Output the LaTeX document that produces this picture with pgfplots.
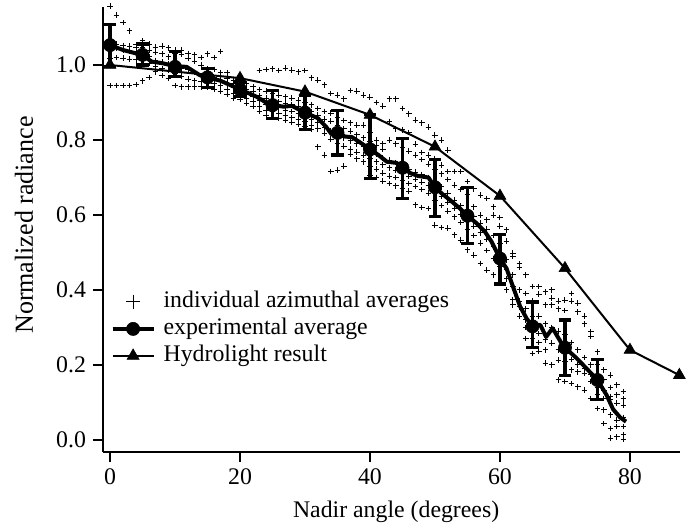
\documentclass[border=0pt]{standalone}
\usepackage{fontspec}
\setmainfont{Liberation Serif}
\usepackage{pgfplots}
\pgfplotsset{compat=1.18}
\begin{document}
\begin{tikzpicture}
\begin{axis}[
  name=ax, at={(0,0)}, anchor=south west,
  scale only axis, width=288.5pt, height=222.5pt,
  xmin=-1.08, xmax=87.7, ymin=-0.032, ymax=1.1547,
  clip=false,
  axis x line=bottom, axis y line=left,
  axis line style={-, line width=0.75pt, black},
  tick align=outside, major tick length=5pt, minor tick num=0,
  tick style={line width=0.75pt, black},
  xtick={0,20,40,60,80}, ytick={0,0.2,0.4,0.6,0.8,1.0},
  yticklabel style={/pgf/number format/.cd, fixed, fixed zerofill, precision=1},
  /pgf/number format/assume math mode=true,
  ticklabel style={font=\fontsize{11.9}{14}\selectfont},
  xlabel={Nadir angle (degrees)}, ylabel={Normalized radiance},
  xlabel style={font=\fontsize{11.9}{14}\selectfont, at={(axis description cs:0.508,-0.135)}, anchor=center},
  ylabel style={font=\fontsize{13}{15}\selectfont, at={(axis description cs:-0.137,0.51)}, anchor=center},
  legend image code/.code={\draw[mark repeat=2,mark phase=2,#1] plot coordinates {(0pt,0pt)(10.25pt,0pt)(20.5pt,0pt)};},
  legend style={draw=none, fill=none, at={(axis description cs:0.0125,0.3685)}, anchor=north west,
    inner sep=0pt, row sep=0pt, font=\fontsize{11.9}{14}\selectfont,
    nodes={inner sep=0pt, text height=9.5pt, text depth=4pt}},
  legend cell align=left,
]
\addlegendimage{only marks, mark=+, mark size=3.5pt, line width=0.45pt, black}
\addlegendentry{\hspace{4pt}individual azimuthal averages}
\addlegendimage{black, line width=2pt, mark=*, mark size=3.3pt, mark options={solid, line width=0.3pt}}
\addlegendentry{\hspace{4pt}experimental average}
\addlegendimage{black, line width=1pt, mark=triangle*, mark size=3.5pt, mark options={solid, line width=0.3pt}}
\addlegendentry{\hspace{4pt}Hydrolight result}

% individual azimuthal averages
\addplot[forget plot, only marks, mark=+, mark size=1.4pt, black, mark options={line width=0.5pt}] coordinates {
(0,1.157)(0,1.052)(0,1.040)(0,1.018)(0,0.945)
(1,1.133)(1,1.056)(1,1.044)(1,1.020)(1,0.945)
(2,1.113)(2,1.052)(2,1.040)(2,1.018)(2,0.945)
(3,1.091)(3,1.050)(3,1.038)(3,1.016)(3,0.945)
(4,1.055)(4,1.046)(4,1.030)(4,1.014)(4,0.948)
(5,1.065)(5,1.048)(5,1.038)(5,1.012)(5,0.958)
(6,1.056)(6,1.040)(6,1.022)(6,1.004)(6,0.967)
(7,1.048)(7,1.034)(7,1.012)(7,0.995)(7,0.982)
(8,1.050)(8,1.030)(8,1.008)(8,0.990)(8,0.972)
(9,1.046)(9,1.022)(9,1.002)(9,0.985)(9,0.965)
(10,1.040)(10,1.030)(10,1.000)(10,0.978)(10,0.945)
(11,1.040)(11,1.028)(11,0.992)(11,0.970)(11,0.942)
(12,1.031)(12,1.018)(12,0.988)(12,0.962)(12,0.942)
(13,1.027)(13,1.010)(13,0.980)(13,0.958)(13,0.942)
(14,1.020)(14,1.000)(14,0.972)(14,0.955)(14,0.942)
(15,1.030)(15,0.990)(15,0.975)(15,0.955)(15,0.940)
(16,1.020)(16,0.988)(16,0.966)(16,0.950)(16,0.935)
(17,1.036)(17,0.980)(17,0.960)(17,0.945)(17,0.930)
(18,0.980)(18,0.965)(18,0.950)(18,0.935)(18,0.922)
(19,0.960)(19,0.950)(19,0.940)(19,0.925)(19,0.912)
(20,0.952)(20,0.942)(20,0.930)(20,0.920)(20,0.908)
(21,0.950)(21,0.935)(21,0.922)(21,0.910)(21,0.898)
(22,0.942)(22,0.930)(22,0.915)(22,0.902)(22,0.890)
(23,0.985)(23,0.935)(23,0.918)(23,0.905)(23,0.890)(23,0.876)
(24,0.988)(24,0.930)(24,0.912)(24,0.896)(24,0.880)(24,0.866)
(25,0.990)(25,0.925)(25,0.905)(25,0.890)(25,0.875)(25,0.860)
(26,0.985)(26,0.920)(26,0.902)(26,0.886)(26,0.870)(26,0.858)
(27,0.992)(27,0.915)(27,0.898)(27,0.880)(27,0.866)(27,0.852)
(28,0.986)(28,0.912)(28,0.895)(28,0.876)(28,0.860)(28,0.848)
(29,0.982)(29,0.906)(29,0.890)(29,0.870)(29,0.855)(29,0.842)
(30,0.985)(30,0.900)(30,0.884)(30,0.864)(30,0.850)(30,0.836)
(31,0.966)(31,0.894)(31,0.876)(31,0.856)(31,0.840)(31,0.828)
(32,0.960)(32,0.884)(32,0.866)(32,0.846)(32,0.830)(32,0.782)
(33,0.947)(33,0.876)(33,0.856)(33,0.834)(33,0.818)(33,0.760)
(34,0.924)(34,0.872)(34,0.850)(34,0.824)(34,0.802)(34,0.716)
(35,0.920)(35,0.860)(35,0.840)(35,0.814)(35,0.792)(35,0.720)
(36,0.910)(36,0.852)(36,0.830)(36,0.806)(36,0.784)(36,0.730)
(37,0.932)(37,0.846)(37,0.824)(37,0.798)(37,0.776)(37,0.762)
(38,0.930)(38,0.840)(38,0.814)(38,0.790)(38,0.768)(38,0.750)
(39,0.920)(39,0.840)(39,0.806)(39,0.782)(39,0.760)(39,0.742)
(40,0.914)(40,0.820)(40,0.796)(40,0.772)(40,0.750)(40,0.730)(40,0.705)
(41,0.900)(41,0.800)(41,0.786)(41,0.762)(41,0.742)(41,0.722)(41,0.700)
(42,0.890)(42,0.790)(42,0.776)(42,0.752)(42,0.734)(42,0.712)(42,0.690)
(43,0.910)(43,0.849)(43,0.800)(43,0.746)(43,0.726)(43,0.704)(43,0.684)
(44,0.910)(44,0.830)(44,0.790)(44,0.740)(44,0.720)(44,0.700)(44,0.678)
(45,0.884)(45,0.827)(45,0.780)(45,0.730)(45,0.712)(45,0.692)(45,0.672)
(46,0.870)(46,0.820)(46,0.770)(46,0.722)(46,0.704)(46,0.684)(46,0.664)
(47,0.853)(47,0.789)(47,0.760)(47,0.714)(47,0.696)(47,0.676)(47,0.627)
(48,0.846)(48,0.767)(48,0.748)(48,0.708)(48,0.688)(48,0.668)(48,0.620)
(49,0.834)(49,0.760)(49,0.736)(49,0.700)(49,0.680)(49,0.658)(49,0.617)
(50,0.813)(50,0.750)(50,0.722)(50,0.690)(50,0.665)(50,0.640)(50,0.573)
(51,0.800)(51,0.733)(51,0.710)(51,0.675)(51,0.650)(51,0.625)(51,0.567)
(52,0.773)(52,0.716)(52,0.695)(52,0.658)(52,0.634)(52,0.610)(52,0.565)
(53,0.716)(53,0.680)(53,0.640)(53,0.618)(53,0.595)(53,0.547)
(54,0.716)(54,0.668)(54,0.625)(54,0.602)(54,0.580)(54,0.533)
(55,0.689)(55,0.655)(55,0.610)(55,0.588)(55,0.562)(55,0.507)
(56,0.670)(56,0.622)(56,0.595)(56,0.570)(56,0.545)(56,0.493)
(57,0.653)(57,0.600)(57,0.578)(57,0.552)(57,0.525)(57,0.471)
(58,0.644)(58,0.587)(58,0.562)(58,0.535)(58,0.505)(58,0.453)
(59,0.622)(59,0.600)(59,0.545)(59,0.515)(59,0.484)(59,0.440)
(60,0.593)(60,0.570)(60,0.525)(60,0.495)(60,0.462)(60,0.420)
(61,0.560)(61,0.530)(61,0.480)(61,0.455)(61,0.430)(61,0.400)
(62,0.498)(62,0.489)(62,0.440)(62,0.410)(62,0.375)(62,0.360)
(63,0.470)(63,0.460)(63,0.400)(63,0.370)(63,0.355)(63,0.330)
(64,0.440)(64,0.391)(64,0.350)(64,0.320)(64,0.300)(64,0.271)
(65,0.409)(65,0.370)(65,0.330)(65,0.300)(65,0.270)(65,0.231)
(66,0.409)(66,0.389)(66,0.330)(66,0.284)(66,0.260)(66,0.236)
(67,0.395)(67,0.360)(67,0.310)(67,0.267)(67,0.240)(67,0.205)
(68,0.400)(68,0.378)(68,0.360)(68,0.300)(68,0.258)(68,0.200)
(69,0.370)(69,0.350)(69,0.290)(69,0.240)(69,0.213)(69,0.160)
(70,0.373)(70,0.345)(70,0.280)(70,0.230)(70,0.209)(70,0.156)
(71,0.391)(71,0.370)(71,0.260)(71,0.215)(71,0.187)(71,0.151)
(72,0.365)(72,0.342)(72,0.240)(72,0.200)(72,0.182)(72,0.142)
(73,0.330)(73,0.310)(73,0.220)(73,0.190)(73,0.178)(73,0.133)
(74,0.289)(74,0.276)(74,0.200)(74,0.175)(74,0.156)(74,0.111)
(75,0.235)(75,0.200)(75,0.169)(75,0.140)(75,0.120)(75,0.084)
(76,0.187)(76,0.160)(76,0.133)(76,0.111)(76,0.080)(76,0.044)
(77,0.173)(77,0.140)(77,0.116)(77,0.107)(77,0.067)(77,0.031)(77,0.005)
(78,0.147)(78,0.120)(78,0.098)(78,0.053)(78,0.036)(78,0.008)
(79,0.129)(79,0.110)(79,0.093)(79,0.060)(79,0.036)(79,0.015)(79,0.002)
};

% Hydrolight result
\addplot[forget plot, black, line width=1pt, mark=triangle*, mark size=3.4pt, mark options={solid, line width=0.3pt}] coordinates {
(0,1.000)(20,0.965)(30,0.929)(40,0.867)(50,0.782)(60,0.651)(70,0.458)(80,0.240)(87.6,0.173)
};

% experimental average (continuous)
\addplot[forget plot, black, line width=2pt, line join=round] coordinates {
(0,1.053)(2,1.040)(4,1.031)(5,1.027)(6.4,1.009)(8,1.005)(10,0.997)(11.8,0.995)
(13.8,0.973)(15,0.967)(17,0.958)(20,0.935)(22.6,0.915)(24,0.900)(25,0.893)
(26.7,0.889)(28,0.891)(29.2,0.880)(30,0.873)(32,0.858)(33.3,0.834)(34.1,0.815)
(35,0.819)(36.2,0.809)(37.2,0.808)(38.7,0.791)(40,0.775)(41.3,0.760)(42.6,0.742)
(44.1,0.739)(45,0.726)(46.3,0.711)(47.4,0.704)(49,0.700)(50,0.674)(51,0.658)
(52.3,0.640)(53.8,0.618)(55,0.598)(56.4,0.578)(57.7,0.555)(58.7,0.529)(60,0.484)
(61,0.458)(62,0.409)(63.1,0.356)(64.1,0.324)(65,0.303)(66.2,0.307)(67.1,0.275)
(68.1,0.298)(69.4,0.260)(70,0.246)(71.8,0.218)(73.3,0.191)(75,0.160)(76.4,0.120)
(77.4,0.082)(78.5,0.060)(79.4,0.049)
};

% experimental average markers with error bars
\addplot[forget plot, black, only marks, mark=*, mark size=3.3pt, mark options={solid, line width=0.3pt},
  error bars/.cd, y dir=both, y explicit,
  error mark=|,
  error bar style={line width=1.6pt, black},
  error mark options={line width=1.6pt, mark size=3.2pt, black}] coordinates {
(0,1.053) += (0,0.054) -= (0,0.058)
(5,1.027) += (0,0.029) -= (0,0.027)
(10,0.995) += (0,0.040) -= (0,0.026)
(15,0.967) += (0,0.024) -= (0,0.027)
(20,0.935) += (0,0.018) -= (0,0.018)
(25,0.893) += (0,0.038) -= (0,0.035)
(30,0.873) += (0,0.045) -= (0,0.046)
(35,0.819) += (0,0.059) -= (0,0.059)
(40,0.775) += (0,0.092) -= (0,0.077)
(45,0.726) += (0,0.079) -= (0,0.081)
(50,0.674) += (0,0.074) -= (0,0.078)
(55,0.598) += (0,0.076) -= (0,0.075)
(60,0.484) += (0,0.064) -= (0,0.068)
(65,0.303) += (0,0.065) -= (0,0.057)
(70,0.246) += (0,0.074) -= (0,0.073)
(75,0.160) += (0,0.055) -= (0,0.051)
};
\end{axis}
\pgfresetboundingbox
\path[use as bounding box] (-51.5pt,-38.5pt) rectangle (295pt,226pt);
\end{tikzpicture}
\end{document}
